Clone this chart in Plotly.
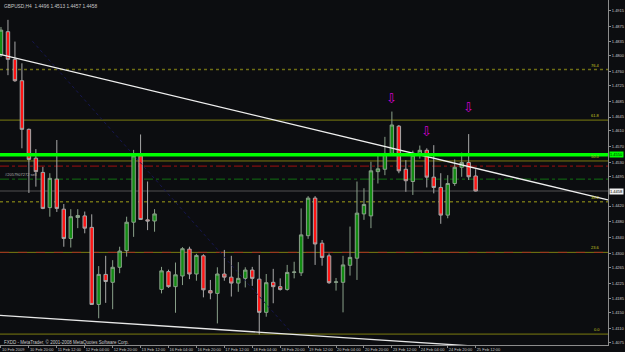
import plotly.graph_objects as go

# ---------------- data ----------------
bars = list(range(69))
opens = [1.4802, 1.4861, 1.4791, 1.4737, 1.4614, 1.4541, 1.4505, 1.4416, 1.4488, 1.4412,
         1.4338, 1.4391, 1.4395, 1.4366, 1.4171, 1.4247, 1.4227, 1.4265, 1.4307, 1.4379,
         1.4547, 1.4385, 1.4382, 1.4209, 1.4254, 1.4216, 1.4243, 1.4311, 1.4248, 1.4294,
         1.4206, 1.4199, 1.4248, 1.4240, 1.4225, 1.4237, 1.4258, 1.4235, 1.4151, 1.4227,
         1.4216, 1.4209, 1.4252, 1.4251, 1.4345, 1.4440, 1.4326, 1.4294, 1.4227, 1.4227,
         1.4270, 1.4288, 1.4400, 1.4395, 1.4507, 1.4513, 1.4553, 1.4622, 1.4513, 1.4482,
         1.4549, 1.4561, 1.4493, 1.4467, 1.4397, 1.4477, 1.4518, 1.4530, 1.4496]
highs = [1.4873, 1.4891, 1.4836, 1.4781, 1.4616, 1.4564, 1.4519, 1.4503, 1.4587, 1.4425,
         1.4412, 1.4412, 1.4406, 1.4399, 1.4268, 1.4294, 1.4283, 1.4317, 1.4393, 1.4562,
         1.4601, 1.4482, 1.4412, 1.4266, 1.4259, 1.4277, 1.4316, 1.4317, 1.4299, 1.4298,
         1.4233, 1.4265, 1.4309, 1.4294, 1.4278, 1.4265, 1.4266, 1.4296, 1.4248, 1.4261,
         1.4237, 1.4271, 1.4279, 1.4414, 1.4445, 1.4445, 1.4334, 1.4300, 1.4238, 1.4294,
         1.4368, 1.4482, 1.4465, 1.4532, 1.4547, 1.4595, 1.4659, 1.4625, 1.4536, 1.4560,
         1.4573, 1.4566, 1.4574, 1.4503, 1.4498, 1.4538, 1.4555, 1.4602, 1.4513]
lows = [1.4797, 1.4751, 1.4734, 1.4566, 1.4453, 1.4469, 1.4412, 1.4393, 1.4405, 1.4317,
        1.4315, 1.4364, 1.4351, 1.4170, 1.4136, 1.4175, 1.4159, 1.4250, 1.4292, 1.4342,
        1.4385, 1.4359, 1.4355, 1.4199, 1.4213, 1.4150, 1.4220, 1.4235, 1.4231, 1.4189,
        1.4184, 1.4123, 1.4231, 1.4191, 1.4203, 1.4214, 1.4218, 1.4095, 1.4140, 1.4174,
        1.4206, 1.4206, 1.4237, 1.4243, 1.4337, 1.4271, 1.4269, 1.4223, 1.4206, 1.4151,
        1.4244, 1.4233, 1.4385, 1.4364, 1.4477, 1.4498, 1.4550, 1.4503, 1.4456, 1.4448,
        1.4540, 1.4467, 1.4452, 1.4375, 1.4389, 1.4471, 1.4494, 1.4486, 1.4457]
closes = [1.4865, 1.4791, 1.4737, 1.4614, 1.4538, 1.4507, 1.4414, 1.4490, 1.4414, 1.4338,
          1.4393, 1.4396, 1.4364, 1.4171, 1.4247, 1.4229, 1.4265, 1.4306, 1.4379, 1.4547,
          1.4386, 1.4382, 1.4400, 1.4256, 1.4216, 1.4246, 1.4312, 1.4248, 1.4295, 1.4208,
          1.4200, 1.4248, 1.4240, 1.4225, 1.4237, 1.4258, 1.4237, 1.4151, 1.4226, 1.4216,
          1.4209, 1.4252, 1.4253, 1.4347, 1.4440, 1.4324, 1.4290, 1.4226, 1.4228, 1.4271,
          1.4290, 1.4402, 1.4424, 1.4509, 1.4514, 1.4553, 1.4625, 1.4509, 1.4484, 1.4549,
          1.4561, 1.4493, 1.4467, 1.4397, 1.4477, 1.4518, 1.4530, 1.4494, 1.4458]

date_ticks = [0, 4, 8, 12, 16, 20, 24, 28, 32, 36, 40, 44, 48, 52, 56, 60, 64, 68]
date_labels = ["10 Feb 2009", "10 Feb 20:00", "11 Feb 12:00", "12 Feb 04:00", "12 Feb 20:00",
               "13 Feb 12:00", "16 Feb 04:00", "16 Feb 20:00", "17 Feb 12:00", "18 Feb 04:00",
               "18 Feb 20:00", "19 Feb 12:00", "20 Feb 04:00", "20 Feb 20:00", "23 Feb 12:00",
               "24 Feb 04:00", "24 Feb 20:00", "25 Feb 12:00"]
price_ticks = [1.4075, 1.4110, 1.4150, 1.4185, 1.4225, 1.4265, 1.4300, 1.4340, 1.4380, 1.4420,
               1.4495, 1.4530, 1.4570, 1.4610, 1.4645, 1.4685, 1.4725, 1.4760, 1.4800,
               1.4835, 1.4875, 1.4915]

fib_low, fib_high = 1.4096, 1.4972
fib_levels = [0.0, 23.6, 38.2, 50.0, 61.8, 76.4]
fib_dash = ["solid", "solid", "dot", "solid", "solid", "dot"]

green_level = 1.4550
red_dashdot_level = 1.4521
green_dashdot_level = 1.4488
bid_level = 1.4458

trend_upper = ([1, 66], [1.4799, 1.4524])      # (bars, prices)
trend_lower = ([0, 64], [1.4143, 1.4070])
navy_line = ([4.5, 41.5], [1.4837, 1.4102])

arrow_bars = [56, 61, 67]
arrow_prices = [1.4693, 1.4608, 1.4668]

x_range = [-0.14, 86.96]
y_range = [1.40684, 1.49412]

# ---------------- figure ----------------
BG = "#0c0d10"
AX = "#8c8c8c"
TXT = "#c8c8c8"
FONT = "Liberation Sans"
TICK = 4

fig = go.Figure()


def extend(pts, x0, x1):
    (xa, xb), (ya, yb) = pts
    s = (yb - ya) / (xb - xa)
    return [x0, x1], [ya + s * (x0 - xa), ya + s * (x1 - xa)]


fx, fy = extend(navy_line, navy_line[0][0], navy_line[0][1])
fig.add_trace(go.Scatter(x=fx, y=fy, mode="lines", line=dict(color="#161650", width=1, dash="dot"),
                         hoverinfo="skip", showlegend=False))

# horizontal levels
for lv, ds in zip(fib_levels, fib_dash):
    price = fib_low + (fib_high - fib_low) * lv / 100.0
    fig.add_shape(type="line", xref="paper", x0=0, x1=1, yref="y", y0=price, y1=price,
                  line=dict(color="#6e6e14" if ds == "dot" else "#7c7c10", width=1.5 if ds == "dot" else 1,
                            dash=ds), layer="below")
    if lv == 23.6:
        fig.add_shape(type="line", xref="paper", x0=0, x1=1, yref="y", y0=price, y1=price,
                      line=dict(color="#a03020", width=1, dash="dash"), layer="below")
    fig.add_annotation(x=0.99, xref="paper", y=price, yref="y", text=f"{lv:.1f}", showarrow=False,
                       xanchor="right", yanchor="bottom", font=dict(size=TICK, color="#c8c820", family=FONT))

fig.add_shape(type="line", xref="paper", x0=0, x1=1, yref="y", y0=red_dashdot_level, y1=red_dashdot_level,
              line=dict(color="#a01010", width=1, dash="dashdot"), layer="below")
fig.add_shape(type="line", xref="paper", x0=0, x1=1, yref="y", y0=green_dashdot_level, y1=green_dashdot_level,
              line=dict(color="#107010", width=1, dash="dashdot"), layer="below")
fig.add_shape(type="line", xref="paper", x0=0, x1=1, yref="y", y0=bid_level, y1=bid_level,
              line=dict(color="#505050", width=1), layer="below")

fig.add_trace(go.Candlestick(
    x=bars, open=opens, high=highs, low=lows, close=closes,
    increasing=dict(fillcolor="#138c13", line=dict(color="#8aa08a", width=1)),
    decreasing=dict(fillcolor="#ff1414", line=dict(color="#a8a8a8", width=1)),
    whiskerwidth=0, showlegend=False, hoverinfo="skip"))

fig.add_shape(type="line", xref="paper", x0=0, x1=1, yref="y", y0=green_level, y1=green_level,
              line=dict(color="#00ff00", width=3.5))

ux, uy = extend(trend_upper, x_range[0], x_range[1])
fig.add_trace(go.Scatter(x=ux, y=uy, mode="lines", line=dict(color="#f0f0f0", width=1.3),
                         hoverinfo="skip", showlegend=False))
lx, ly = extend(trend_lower, x_range[0], x_range[1])
fig.add_trace(go.Scatter(x=lx, y=ly, mode="lines", line=dict(color="#e8e8e8", width=1.3),
                         hoverinfo="skip", showlegend=False))

for b, p in zip(arrow_bars, arrow_prices):
    fig.add_annotation(x=b, y=p, text="⇩", showarrow=False,
                       font=dict(size=13, color="#d000d0", family="DejaVu Sans"))

# texts
fig.add_annotation(x=0.004, xref="paper", y=1, yref="paper", yshift=-2,
                   text="GBPUSD,H4  1.4496 1.4513 1.4457 1.4458", showarrow=False,
                   xanchor="left", yanchor="top", font=dict(size=4.8, color=TXT, family=FONT))
fig.add_annotation(x=0.004, xref="paper", y=0.009, yref="paper",
                   text="FXDD - MetaTrader, © 2001-2008 MetaQuotes Software Corp.", showarrow=False,
                   xanchor="left", yanchor="middle", font=dict(size=4.5, color=TXT, family=FONT))
fig.add_annotation(x=0.005, xref="paper", y=green_dashdot_level, yref="y",
                   text="#2057907272 sell", showarrow=False,
                   xanchor="left", yanchor="bottom", font=dict(size=TICK, color="#b0b0b0", family=FONT))

# price boxes on axis
fig.add_annotation(x=1, xref="paper", xshift=1, y=green_level, yref="y", text=f"{green_level:.4f}",
                   showarrow=False, xanchor="left", bgcolor="#00ff00",
                   font=dict(size=TICK, color="#003000", family=FONT), borderpad=0)
fig.add_annotation(x=1, xref="paper", xshift=1, y=bid_level, yref="y", text=f"{bid_level:.4f}",
                   showarrow=False, xanchor="left", bgcolor="#f0f0f0",
                   font=dict(size=TICK, color="#000000", family=FONT), borderpad=0)

fig.update_layout(
    width=625, height=352,
    margin=dict(l=0, r=17, t=0, b=7, autoexpand=False),
    paper_bgcolor=BG, plot_bgcolor=BG,
    font=dict(family=FONT, color=TXT, size=TICK),
    xaxis=dict(range=x_range, rangeslider=dict(visible=False), tickvals=date_ticks, ticktext=date_labels,
               ticklabelposition="outside right", ticks="outside", ticklen=2, tickcolor=AX,
               tickangle=0, automargin=False,
               showgrid=False, zeroline=False, showline=True, linecolor=AX, linewidth=1,
               tickfont=dict(size=TICK, color=TXT, family=FONT)),
    yaxis=dict(range=y_range, side="right", tickvals=price_ticks, ticktext=[f"{v:.4f}" for v in price_ticks],
               ticks="outside", ticklen=2, tickcolor=AX, showgrid=False, zeroline=False, automargin=False,
               showline=True, mirror=True, linecolor=AX, linewidth=1,
               tickfont=dict(size=TICK, color=TXT, family=FONT)),
)

fig.write_html("out.html")
